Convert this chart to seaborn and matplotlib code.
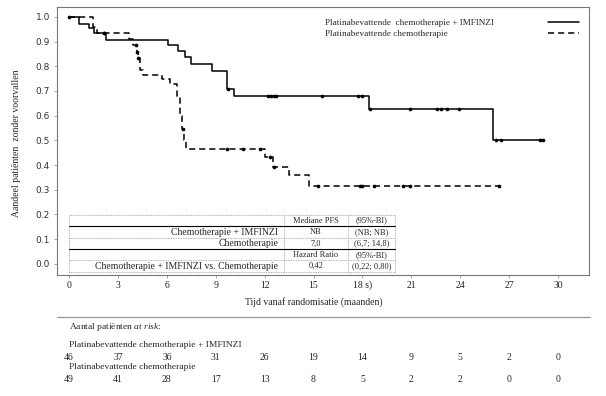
import numpy as np
import pandas as pd
import matplotlib
matplotlib.use("Agg")
import matplotlib.pyplot as plt
import matplotlib.transforms as mtransforms
import seaborn as sns

# ---------------- data ----------------
times_imf = [0, 0.6, 1.25, 1.55, 2.25, 6.1, 6.7, 7.1, 7.5, 8.8, 9.7, 10.1, 18.4, 26.0, 29.1]
surv_imf = [1.0, 0.972, 0.954, 0.934, 0.906, 0.885, 0.862, 0.836, 0.809, 0.782, 0.706, 0.679, 0.626, 0.50, 0.50]
censor_imf = [0, 2.15, 9.75, 12.2, 12.4, 12.55, 12.7, 15.5, 17.7, 18.0, 18.45, 20.9,
              22.6, 22.8, 23.2, 23.9, 26.2, 26.5, 28.9, 29.1]

times_chemo = [0, 1.5, 1.7, 3.65, 3.9, 4.15, 4.22, 4.35, 4.55, 5.7, 6.2, 6.6, 6.8, 6.95,
               7.05, 7.2, 12.0, 12.5, 13.5, 14.7, 26.4]
surv_chemo = [1.0, 0.959, 0.936, 0.909, 0.886, 0.859, 0.835, 0.785, 0.764, 0.748, 0.73, 0.676,
              0.60, 0.548, 0.50, 0.466, 0.432, 0.394, 0.358, 0.317, 0.317]
censor_chemo = [2.15, 4.1, 4.2, 4.25, 6.97, 9.7, 10.7, 11.7, 12.35, 12.6, 15.3, 17.85, 18.0,
                18.7, 20.5, 20.9, 26.4]

series_labels = ["Platinabevattende  chemotherapie + IMFINZI", "Platinabevattende chemotherapie"]

x_ticks = [0, 3, 6, 9, 12, 15, 18, 21, 24, 27, 30]
x_tick_labels = ["0", "3", "6", "9", "12", "15", "18 s)", "21", "24", "27", "30"]
y_ticks = [0.0, 0.1, 0.2, 0.3, 0.4, 0.5, 0.6, 0.7, 0.8, 0.9, 1.0]

risk_imf = [46, 37, 36, 31, 26, 19, 14, 9, 5, 2, 0]
risk_chemo = [49, 41, 28, 17, 13, 8, 5, 2, 2, 0, 0]

tab_col0 = ["", "Chemotherapie + IMFINZI", "Chemotherapie", "",
            "Chemotherapie + IMFINZI vs. Chemotherapie"]
tab_col1 = ["Mediane PFS", "NB", "7,0", "Hazard Ratio", "0,42"]
tab_col2 = ["(95%-BI)", "(NB; NB)", "(6,7; 14,8)", "(95%-BI)", "(0,22; 0,80)"]

# ---------------- style ----------------
sns.set_theme(style="white")
plt.rcParams["font.family"] = ["Liberation Serif", "DejaVu Serif"]
plt.rcParams["mathtext.fontset"] = "custom"
plt.rcParams["mathtext.rm"] = "Liberation Serif"
plt.rcParams["mathtext.it"] = "Liberation Serif:italic"

fig = plt.figure(figsize=(6.06, 3.96), dpi=100)
ax_bottom = 1 - 275 / 396
ax_top = 1 - 7 / 396
ax = fig.add_axes([0.094, ax_bottom, 0.878, ax_top - ax_bottom])
xmin, xmax = -0.74, 31.9
ymin, ymax = -0.045, 1.040
ax.set_xlim(xmin, xmax)
ax.set_ylim(ymin, ymax)


def step_value(times, surv, t):
    idx = np.searchsorted(np.asarray(times), t, side="right") - 1
    return np.asarray(surv)[idx]


df_imf = pd.DataFrame({"t": times_imf, "s": surv_imf})
df_chemo = pd.DataFrame({"t": times_chemo, "s": surv_chemo})

sns.lineplot(data=df_imf, x="t", y="s", drawstyle="steps-post", color="black", lw=1.1,
             estimator=None, sort=False, ax=ax)
sns.lineplot(data=df_chemo, x="t", y="s", drawstyle="steps-post", color="black", lw=1.1,
             linestyle=(0, (4, 2.6)), estimator=None, sort=False, ax=ax)

c_imf = pd.DataFrame({"t": censor_imf, "s": step_value(times_imf, surv_imf, censor_imf)})
c_chemo = pd.DataFrame({"t": censor_chemo, "s": step_value(times_chemo, surv_chemo, censor_chemo)})
sns.scatterplot(data=c_imf, x="t", y="s", color="black", s=7, linewidth=0, ax=ax, zorder=5)
sns.scatterplot(data=c_chemo, x="t", y="s", color="black", s=7, linewidth=0, ax=ax, zorder=5)

ax.set_xlabel("")
ax.set_ylabel("")
ax.set_xticks(x_ticks)
xl = ax.set_xticklabels(x_tick_labels, fontsize=7, color="#222222")
for lab in xl:
    lab.set_verticalalignment("baseline")
ax.set_yticks(y_ticks)
ax.set_yticklabels([f"{v:.1f}" for v in y_ticks], fontsize=6.5, color="#333333",
                   family="DejaVu Sans")
ax.tick_params(axis="x", direction="out", length=2, width=0.6, color="#999999",
               bottom=True, pad=7.3)
ax.tick_params(axis="y", direction="out", length=2.5, width=0.6, color="#999999",
               left=True, pad=2.5)
for sp in ax.spines.values():
    sp.set_color("#777777")
    sp.set_linewidth(0.8)

blend = mtransforms.blended_transform_factory(ax.transData, fig.transFigure)

# axis titles
ax.text(15, 1 - 302 / 396, "Tijd vanaf randomisatie (maanden)", ha="center", va="center",
        fontsize=7, transform=blend)
fig.text(0.028, 1 - 143 / 396, "Aandeel patiënten  zonder voorvallen",
         rotation=90, ha="center", va="center", fontsize=7)

# legend (manual)
ax.text(0.504, 0.940, series_labels[0], transform=ax.transAxes, fontsize=6.6,
        ha="left", va="center")
ax.text(0.504, 0.900, series_labels[1], transform=ax.transAxes, fontsize=6.6,
        ha="left", va="center")
ax.plot([0.922, 0.982], [0.944, 0.944], color="black", lw=1.1, transform=ax.transAxes)
ax.plot([0.922, 0.982], [0.903, 0.903], color="black", lw=1.1,
        linestyle=(0, (4, 2.6)), transform=ax.transAxes)

# statistics table inside the plot
col_edges = [0.0, 13.2, 17.1, 20.0]
row_top = 0.198
row_h = 0.046
row_edges = [row_top - i * row_h for i in range(6)]
for i, yv in enumerate(row_edges):
    if i in (1, 3):
        ax.plot([col_edges[0], col_edges[-1]], [yv, yv], color="black", lw=0.8)
    else:
        ax.plot([col_edges[0], col_edges[-1]], [yv, yv], color="#999999", lw=0.6,
                linestyle=(0, (1, 1)))
for xv in col_edges:
    ax.plot([xv, xv], [row_edges[-1], row_edges[0]], color="#999999", lw=0.6,
            linestyle=(0, (1, 1)))
for i in range(5):
    yc = row_top - (i + 0.5) * row_h
    ax.text(col_edges[1] - 0.35, yc, tab_col0[i], ha="right", va="center", fontsize=7)
    ax.text((col_edges[1] + col_edges[2]) / 2, yc, tab_col1[i], ha="center", va="center",
            fontsize=6)
    ax.text((col_edges[2] + col_edges[3]) / 2, yc, tab_col2[i], ha="center", va="center",
            fontsize=6)

# at-risk table below
fig.add_artist(plt.Line2D([0.094, 0.973], [1 - 317 / 396, 1 - 317 / 396], color="#999999",
                          lw=0.9, transform=fig.transFigure))
fig.text(0.114, 1 - 327 / 396, r"Aantal patiënten $\mathit{at\ risk}$:", fontsize=6.8,
         ha="left", va="center")
fig.text(0.114, 1 - 345 / 396, series_labels[0].replace("  ", " "), fontsize=6.8,
         ha="left", va="center")
fig.text(0.114, 1 - 367 / 396, series_labels[1], fontsize=6.8, ha="left", va="center")
for xt, a, b in zip(x_ticks, risk_imf, risk_chemo):
    ax.text(xt, 1 - 357 / 396, str(a), transform=blend, ha="center", va="center", fontsize=7)
    ax.text(xt, 1 - 379 / 396, str(b), transform=blend, ha="center", va="center", fontsize=7)

fig.savefig("out.png", dpi=100)
